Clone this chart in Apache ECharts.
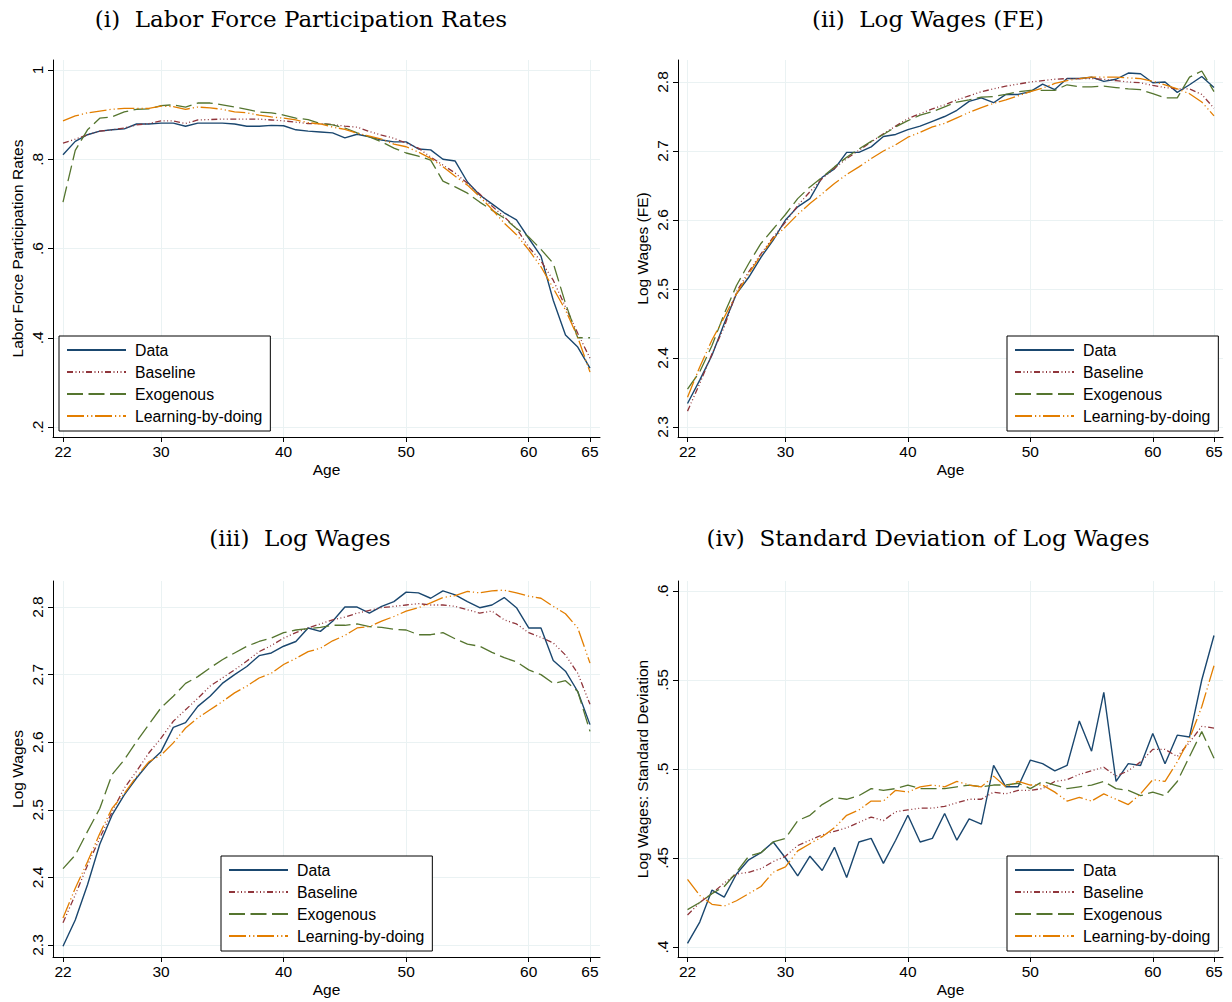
<!DOCTYPE html>
<html>
<head>
<meta charset="utf-8">
<script src="https://cdn.jsdelivr.net/npm/echarts@6.0.0/dist/echarts.min.js"></script>
<style>
  html, body { margin: 0; padding: 0; background: #fff; }
  #chart { width: 1232px; height: 1002px; }
</style>
</head>
<body>
<div id="chart"></div>
<script>
(function () {
  const ages = [22, 23, 24, 25, 26, 27, 28, 29, 30, 31, 32, 33, 34, 35, 36, 37, 38, 39, 40, 41, 42,
    43, 44, 45, 46, 47, 48, 49, 50, 51, 52, 53, 54, 55, 56, 57, 58, 59, 60, 61, 62, 63, 64, 65];
  const ageTicks = [22, 30, 40, 50, 60, 65];
  const seriesNames = ["Data", "Baseline", "Exogenous", "Learning-by-doing"];

  // (i) labor force participation
  const lfpData = [.810, .840, .855, .863, .866, .868, .879, .879, .881, .881, .874, .881, .881, .881, .879, .874, .874, .876, .875, .866, .863,
    .861, .859, .848, .856, .850, .843, .839, .839, .823, .821, .800, .796, .749, .720, .700, .680, .664, .623, .583, .484, .406, .379, .332];
  const lfpBase = [.836, .845, .855, .863, .866, .870, .877, .880, .886, .886, .880, .888, .889, .890, .890, .890, .890, .888, .886, .883, .880,
    .880, .878, .874, .872, .862, .854, .847, .836, .825, .805, .787, .769, .746, .722, .695, .671, .645, .603, .572, .529, .469, .410, .354];
  const lfpExo = [.704, .820, .866, .892, .895, .906, .912, .913, .920, .922, .917, .926, .926, .922, .917, .912, .906, .904, .899, .892, .889,
    .880, .877, .870, .859, .850, .839, .825, .814, .807, .798, .751, .738, .724, .704, .686, .668, .645, .626, .598, .567, .477, .400, .400];
  const lfpLbd = [.886, .897, .904, .908, .912, .914, .914, .914, .919, .918, .912, .917, .915, .912, .906, .904, .899, .895, .892, .888, .882,
    .879, .872, .867, .858, .852, .845, .834, .828, .816, .802, .783, .762, .742, .716, .688, .657, .631, .597, .559, .511, .462, .401, .323];

  // (ii) log wages (FE)
  const feData = [2.334, 2.368, 2.404, 2.450, 2.493, 2.517, 2.546, 2.571, 2.600, 2.619, 2.631, 2.662, 2.674, 2.698, 2.698, 2.706, 2.721, 2.724, 2.731, 2.736, 2.743,
    2.750, 2.759, 2.772, 2.777, 2.770, 2.782, 2.782, 2.786, 2.797, 2.789, 2.805, 2.805, 2.807, 2.801, 2.804, 2.813, 2.812, 2.799, 2.800, 2.785, 2.796, 2.808, 2.792];
  const feBase = [2.323, 2.363, 2.406, 2.445, 2.496, 2.525, 2.551, 2.575, 2.597, 2.621, 2.641, 2.660, 2.675, 2.689, 2.701, 2.713, 2.725, 2.736, 2.747, 2.754, 2.761,
    2.767, 2.774, 2.780, 2.786, 2.790, 2.794, 2.797, 2.800, 2.802, 2.804, 2.805, 2.805, 2.805, 2.804, 2.802, 2.800, 2.799, 2.795, 2.792, 2.790, 2.790, 2.782, 2.762];
  const feExo = [2.355, 2.380, 2.418, 2.464, 2.505, 2.537, 2.566, 2.587, 2.608, 2.631, 2.648, 2.662, 2.677, 2.691, 2.703, 2.714, 2.724, 2.735, 2.744, 2.752, 2.757,
    2.764, 2.771, 2.774, 2.778, 2.779, 2.782, 2.786, 2.788, 2.788, 2.788, 2.796, 2.793, 2.793, 2.794, 2.792, 2.790, 2.789, 2.783, 2.777, 2.777, 2.807, 2.816, 2.786];
  const feLbd = [2.343, 2.387, 2.426, 2.459, 2.493, 2.522, 2.549, 2.573, 2.590, 2.608, 2.624, 2.638, 2.653, 2.666, 2.677, 2.689, 2.700, 2.709, 2.720, 2.727, 2.735,
    2.740, 2.748, 2.756, 2.763, 2.769, 2.774, 2.780, 2.786, 2.791, 2.798, 2.802, 2.805, 2.807, 2.807, 2.807, 2.806, 2.805, 2.801, 2.796, 2.790, 2.783, 2.771, 2.751];

  // (iii) log wages
  const lwData = [2.298, 2.337, 2.389, 2.449, 2.492, 2.522, 2.547, 2.569, 2.586, 2.622, 2.629, 2.653, 2.668, 2.687, 2.700, 2.712, 2.728, 2.732, 2.742, 2.749, 2.769,
    2.764, 2.779, 2.800, 2.800, 2.791, 2.801, 2.808, 2.822, 2.821, 2.813, 2.824, 2.818, 2.808, 2.799, 2.803, 2.814, 2.799, 2.769, 2.769, 2.721, 2.705, 2.675, 2.626];
  const lwBase = [2.333, 2.374, 2.418, 2.458, 2.497, 2.532, 2.557, 2.584, 2.606, 2.631, 2.648, 2.665, 2.683, 2.695, 2.707, 2.720, 2.734, 2.743, 2.754, 2.762, 2.769,
    2.775, 2.781, 2.785, 2.791, 2.795, 2.799, 2.801, 2.803, 2.805, 2.803, 2.803, 2.801, 2.796, 2.791, 2.794, 2.781, 2.775, 2.762, 2.755, 2.747, 2.729, 2.702, 2.656];
  const lwExo = [2.413, 2.433, 2.468, 2.502, 2.552, 2.574, 2.601, 2.626, 2.651, 2.668, 2.687, 2.697, 2.710, 2.722, 2.732, 2.742, 2.749, 2.754, 2.762, 2.766, 2.768,
    2.770, 2.773, 2.773, 2.775, 2.771, 2.770, 2.767, 2.766, 2.759, 2.759, 2.762, 2.753, 2.745, 2.742, 2.733, 2.725, 2.719, 2.707, 2.700, 2.687, 2.691, 2.675, 2.616];
  const lwLbd = [2.340, 2.384, 2.423, 2.465, 2.502, 2.524, 2.549, 2.571, 2.581, 2.599, 2.621, 2.636, 2.648, 2.660, 2.673, 2.683, 2.695, 2.702, 2.715, 2.724, 2.734,
    2.739, 2.750, 2.758, 2.769, 2.771, 2.779, 2.786, 2.794, 2.799, 2.806, 2.814, 2.817, 2.823, 2.821, 2.824, 2.825, 2.821, 2.816, 2.813, 2.801, 2.790, 2.769, 2.717];

  // (iv) standard deviation of log wages
  const sdData = [.402, .414, .432, .428, .441, .449, .453, .459, .450, .440, .451, .443, .456, .439, .459, .461, .447, .460, .474, .459, .461,
    .475, .460, .472, .469, .502, .490, .490, .505, .503, .499, .502, .527, .510, .543, .493, .503, .502, .520, .503, .519, .518, .550, .575];
  const sdBase = [.418, .425, .430, .436, .441, .442, .444, .448, .451, .457, .460, .463, .465, .467, .470, .473, .471, .476, .477, .478, .478,
    .479, .481, .483, .483, .487, .486, .488, .488, .489, .493, .494, .497, .499, .501, .496, .499, .504, .511, .511, .507, .515, .524, .523];
  const sdExo = [.421, .425, .430, .434, .442, .451, .453, .459, .461, .471, .474, .480, .484, .483, .485, .489, .488, .489, .491, .489, .489,
    .489, .490, .491, .490, .491, .491, .492, .489, .493, .491, .489, .490, .491, .493, .489, .488, .485, .487, .485, .493, .507, .521, .506];
  const sdLbd = [.438, .429, .424, .423, .426, .430, .434, .442, .445, .454, .458, .462, .467, .474, .477, .482, .482, .488, .487, .490, .491,
    .490, .493, .491, .490, .496, .490, .493, .491, .491, .487, .482, .484, .482, .486, .483, .480, .486, .494, .493, .504, .517, .535, .558];

  const panels = [
    { title: "(i)  Labor Force Participation Rates", yName: "Labor Force Participation Rates",
      values: [lfpData, lfpBase, lfpExo, lfpLbd], yTicks: [0.2, 0.4, 0.6, 0.8, 1], yMin: 0.1776, yMax: 1.0224,
      grid: { left: 53, top: 60, width: 547, height: 377 }, xMin: 21.184, xMax: 65.816,
      titleX: 301, titleY: 19, legend: { left: 59, top: 336 } },
    { title: "(ii)  Log Wages (FE)", yName: "Log Wages (FE)",
      values: [feData, feBase, feExo, feLbd], yTicks: [2.3, 2.4, 2.5, 2.6, 2.7, 2.8], yMin: 2.2855, yMax: 2.8319,
      grid: { left: 678, top: 60, width: 545, height: 377 }, xMin: 21.224, xMax: 65.735,
      titleX: 928, titleY: 19, legend: { left: 1007, top: 336 } },
    { title: "(iii)  Log Wages", yName: "Log Wages",
      values: [lwData, lwBase, lwExo, lwLbd], yTicks: [2.3, 2.4, 2.5, 2.6, 2.7, 2.8], yMin: 2.2822, yMax: 2.8385,
      grid: { left: 53, top: 581, width: 547, height: 376 }, xMin: 21.184, xMax: 65.816,
      titleX: 300, titleY: 538, legend: { left: 221, top: 856 } },
    { title: "(iv)  Standard Deviation of Log Wages", yName: "Log Wages: Standard Deviation",
      values: [sdData, sdBase, sdExo, sdLbd], yTicks: [0.4, 0.45, 0.5, 0.55, 0.6], yMin: 0.3944, yMax: 0.6056,
      grid: { left: 678, top: 581, width: 545, height: 376 }, xMin: 21.224, xMax: 65.735,
      titleX: 928, titleY: 538, legend: { left: 1007, top: 856 } }
  ];

  const styles = [
    { color: "#1a476f", width: 1.4, type: "solid" },
    { color: "#90353b", width: 1.3, type: [6, 2.5, 1, 2.5, 1, 2.5, 1, 2.5] },
    { color: "#55752f", width: 1.3, type: [16, 5.5] },
    { color: "#e37e00", width: 1.3, type: [17, 3, 1.2, 3, 1.2, 2.6] }
  ];

  const sans = "Liberation Sans";
  const gridColor = "#eaf2f3";

  function fmtY(v) {
    let s = String(+v.toFixed(3));
    if (s.indexOf("0.") === 0) s = s.slice(1);
    return s;
  }

  const grids = [], xAxes = [], yAxes = [], series = [], legends = [], texts = [];

  panels.forEach((p, k) => {
    grids.push(p.grid);
    xAxes.push({
      type: "value", gridIndex: k, min: p.xMin, max: p.xMax,
      name: "Age", nameLocation: "middle", nameGap: 24,
      nameTextStyle: { fontFamily: sans, fontSize: 15.5, color: "#000" },
      axisLine: { show: true, lineStyle: { color: "#000", width: 1 } },
      axisTick: { show: true, length: 5, customValues: ageTicks, lineStyle: { color: "#000" } },
      axisLabel: { customValues: ageTicks, margin: 6, fontFamily: sans, fontSize: 15.5, color: "#000" },
      splitLine: { show: true, lineStyle: { color: gridColor, width: 1 } }
    });
    yAxes.push({
      type: "value", gridIndex: k, min: p.yMin, max: p.yMax,
      name: p.yName, nameLocation: "middle", nameGap: 28,
      nameTextStyle: { fontFamily: sans, fontSize: 15.5, color: "#000" },
      axisLine: { show: true, lineStyle: { color: "#000", width: 1 } },
      axisTick: { show: true, length: 5, customValues: p.yTicks, lineStyle: { color: "#000" } },
      axisLabel: { customValues: p.yTicks, rotate: 90, margin: 8, formatter: fmtY,
        fontFamily: sans, fontSize: 15.5, color: "#000" },
      splitLine: { show: true, lineStyle: { color: gridColor, width: 1 } }
    });
    p.values.forEach((vals, s) => {
      series.push({
        name: seriesNames[s], type: "line", xAxisIndex: k, yAxisIndex: k,
        symbol: "none", silent: true,
        lineStyle: styles[s], itemStyle: { color: styles[s].color },
        data: ages.map((a, i) => [a, vals[i]])
      });
    });
    legends.push({
      data: seriesNames, orient: "vertical", left: p.legend.left, top: p.legend.top,
      selectedMode: false, itemWidth: 59, itemHeight: 16, itemGap: 6,
      padding: [6, 8, 7, 7], borderColor: "#000", borderWidth: 1, backgroundColor: "#fff",
      itemStyle: { opacity: 0 },
      textStyle: { fontFamily: sans, fontSize: 15.8, color: "#000", padding: [0, 0, 0, 4] }
    });
    texts.push({
      type: "text", x: p.titleX, y: p.titleY, silent: true,
      style: { text: p.title, fontFamily: "DejaVu Serif", fontSize: 23, fill: "#000",
        align: "center", verticalAlign: "middle" }
    });
  });

  const chart = echarts.init(document.getElementById("chart"), null, { renderer: "svg" });
  chart.setOption({
    animation: false,
    backgroundColor: "#fff",
    grid: grids,
    xAxis: xAxes,
    yAxis: yAxes,
    legend: legends,
    series: series,
    graphic: texts
  });
})();
</script>
</body>
</html>
